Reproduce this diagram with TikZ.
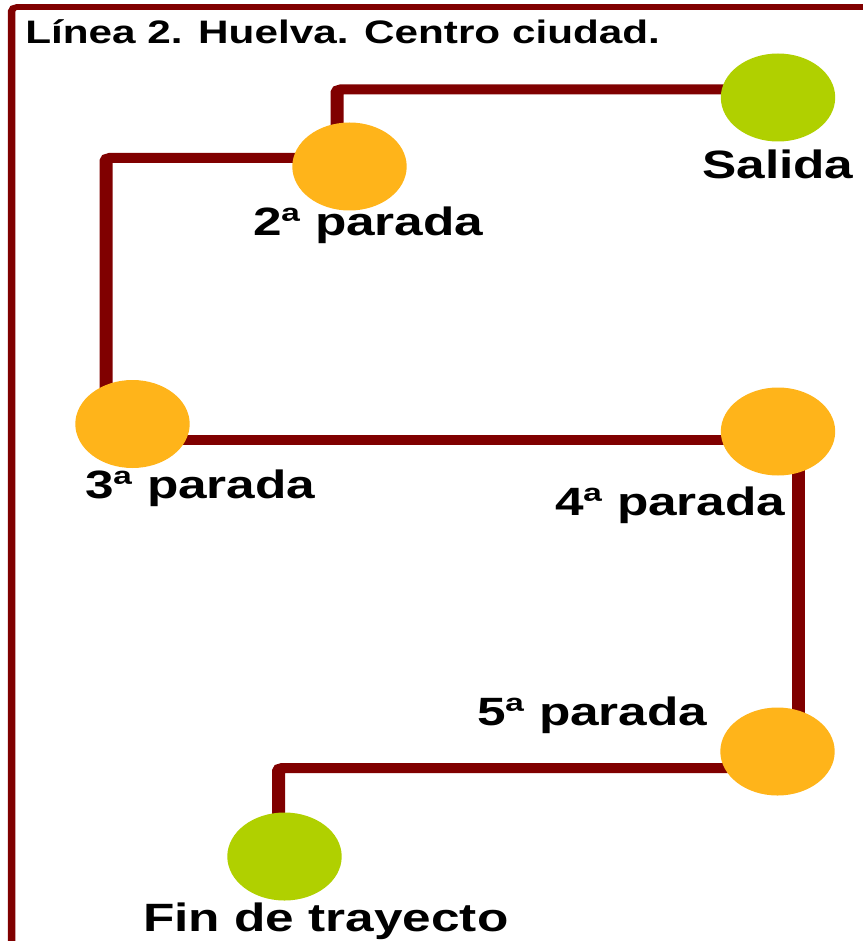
\documentclass[tikz,border=0pt]{standalone}
\usepackage{fontspec}
\setmainfont{Liberation Sans}
\usetikzlibrary{calc}
\definecolor{ruta}{HTML}{800000}
\definecolor{verde}{HTML}{B0D000}
\definecolor{naranja}{HTML}{FFB41A}
\tikzset{
  frameline/.style={draw=ruta, line width=5.7pt, rounded corners=4pt},
  route/.style={draw=ruta, line width=10pt, rounded corners=3pt},
  stop/.style={circle, minimum size=88pt, inner sep=0pt, draw=none},
  stopgreen/.style={stop, fill=verde},
  stoporange/.style={stop, fill=naranja},
  lbl/.style={anchor=base west, inner sep=0pt, font=\fontsize{39.5pt}{47pt}\selectfont\bfseries},
  ttl/.style={anchor=base west, inner sep=0pt, font=\fontsize{32.5pt}{39pt}\selectfont\bfseries}
}
\begin{document}
\begin{tikzpicture}[x=1pt,y=-1pt]
\useasboundingbox (0,0) rectangle (862,941);
\begin{scope}[transform canvas={xscale=1.3}, x=0.7692308pt]
  % stop centres
  \coordinate (cS) at (778,97.5);
  \coordinate (c2) at (349.5,166.5);
  \coordinate (c3) at (132.5,424);
  \coordinate (c4) at (778,431.5);
  \coordinate (c5) at (777.5,751.5);
  \coordinate (cF) at (284.5,856.5);
  % frame
  \coordinate (fb) at (11.7,1000);
  \coordinate (ft) at (11.7,7);
  \coordinate (fr) at (1000,7);
  \draw[frameline] (fb) -- (ft) -- (fr);
  % route
  \draw[route] ($(cS)+(0,-8)$) -| ($(c2)+(-12.5,0)$);
  \draw[route] ($(c2)+(0,-8.5)$) -| ($(c3)+(-26.5,0)$);
  \draw[route] ($(c3)+(0,16)$) coordinate (t34) -- (t34 -| c4);
  \draw[route] ($(c4)+(20,0)$) coordinate (t45) -- (t45 |- c5);
  \draw[route] ($(c5)+(0,16.5)$) -| ($(cF)+(-6,0)$);
  % stops
  \node[stopgreen]  (salida) at (cS) {};
  \node[stoporange] (p2) at (c2) {};
  \node[stoporange] (p3) at (c3) {};
  \node[stoporange] (p4) at (c4) {};
  \node[stoporange] (p5) at (c5) {};
  \node[stopgreen]  (fin) at (cF) {};
  % texts
  \node[ttl] (title) at (25,44) {Línea 2. Huelva. Centro ciudad.};
  \node[lbl] (tS) at (702,179) {Salida};
  \node[lbl] (t2) at (253,235) {2ª parada};
  \node[lbl] (t3) at (85,498) {3ª parada};
  \node[lbl] (t4) at (555,515) {4ª parada};
  \node[lbl] (t5) at (477,725) {5ª parada};
  \node[lbl] (tF) at (143,931) {Fin de trayecto};
\end{scope}
\end{tikzpicture}
\end{document}
